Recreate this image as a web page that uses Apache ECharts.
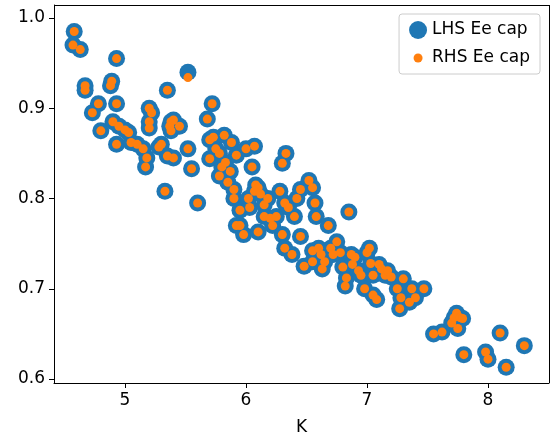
<!DOCTYPE html><html><head><meta charset="utf-8"><script src="https://cdn.jsdelivr.net/npm/echarts@6/dist/echarts.min.js"></script></head><body style="margin:0"><div id="c" style="width:558px;height:448px"></div><script>
const K=[4.58,4.57,4.63,4.67,4.67,4.73,4.78,4.80,4.88,4.89,4.93,4.90,4.93,4.95,4.93,5.03,5.05,5.10,5.15,5.20,5.20,5.22,5.20,5.18,5.17,5.28,5.30,5.33,5.35,5.38,5.37,5.38,5.35,5.40,5.45,5.52,5.52,5.55,5.60,5.68,5.70,5.72,5.73,5.70,5.75,5.78,5.80,5.78,5.82,5.83,5.85,5.88,5.87,5.90,5.90,5.92,5.95,5.92,5.95,5.98,6.00,6.02,6.03,6.05,6.07,6.08,6.10,6.07,6.12,6.10,6.15,6.15,6.18,6.20,6.22,6.25,6.28,6.30,6.33,6.32,6.35,6.30,6.32,6.38,6.40,6.42,6.45,6.45,6.48,6.52,6.55,6.57,6.58,6.55,6.55,6.60,6.62,6.65,6.63,6.68,6.70,6.72,6.75,6.78,6.80,6.82,6.83,6.85,6.87,6.88,6.90,6.93,6.95,6.98,7.00,7.02,7.03,7.05,7.05,7.08,7.10,7.12,7.15,7.17,7.20,7.25,7.27,7.28,7.30,7.35,7.37,7.40,7.47,7.55,7.62,7.70,7.72,7.74,7.75,7.77,7.79,7.80,7.98,8.00,8.10,8.15,8.30,5.00,5.40];
const lhsEe=[0.985,0.970,0.965,0.925,0.920,0.895,0.905,0.875,0.925,0.930,0.955,0.885,0.905,0.880,0.860,0.873,0.862,0.860,0.855,0.900,0.885,0.895,0.878,0.845,0.835,0.857,0.860,0.808,0.920,0.885,0.880,0.875,0.847,0.845,0.880,0.940,0.855,0.833,0.795,0.888,0.865,0.905,0.868,0.844,0.855,0.850,0.835,0.825,0.870,0.840,0.818,0.862,0.830,0.810,0.800,0.848,0.787,0.770,0.770,0.760,0.855,0.800,0.790,0.835,0.858,0.815,0.812,0.808,0.805,0.763,0.780,0.793,0.800,0.778,0.770,0.780,0.808,0.839,0.850,0.795,0.790,0.760,0.745,0.738,0.780,0.800,0.810,0.758,0.725,0.820,0.812,0.795,0.780,0.742,0.730,0.745,0.738,0.730,0.722,0.770,0.745,0.738,0.752,0.740,0.724,0.703,0.712,0.785,0.738,0.727,0.735,0.720,0.715,0.700,0.740,0.745,0.728,0.715,0.693,0.688,0.727,0.722,0.715,0.720,0.713,0.700,0.678,0.690,0.711,0.685,0.700,0.690,0.700,0.650,0.652,0.662,0.668,0.673,0.656,0.668,0.667,0.627,0.630,0.622,0.651,0.613,0.637,0.876,0.887];
const rhsEe=lhsEe.map((v,i)=>i===35?0.934:v);
const xTicks=[5,6,7,8];
const yTicks=[0.6,0.7,0.8,0.9,1.0];
const smallDot='image://data:image/svg+xml;utf8,'+encodeURIComponent('<svg xmlns="http://www.w3.org/2000/svg" width="18" height="18"><circle cx="9" cy="9" r="4.5" fill="#ff7f0e"/></svg>');
const ch=echarts.init(document.getElementById('c'));
const F='DejaVu Sans';
ch.setOption({animation:false,
grid:{left:54,right:9,top:5,bottom:65},
legend:{top:14,right:18,orient:'vertical',itemGap:10,padding:[7,10],borderColor:'#ccc',borderWidth:1,borderRadius:3,textStyle:{fontFamily:F,fontSize:17,color:'#000'},itemWidth:18,itemHeight:18,
data:[{name:'LHS Ee cap',icon:'circle'},{name:'RHS Ee cap',icon:smallDot}]},
xAxis:{type:'value',min:4.413,max:8.504,name:'K',nameLocation:'middle',nameGap:36,nameTextStyle:{fontFamily:F,fontSize:17,color:'#000'},
axisLine:{onZero:false,lineStyle:{color:'#000'}},splitLine:{show:false},
axisTick:{customValues:xTicks,length:5,lineStyle:{color:'#000'}},axisLabel:{customValues:xTicks,fontFamily:F,fontSize:17,color:'#000',margin:9}},
yAxis:{type:'value',min:0.5956,max:1.0144,
axisLine:{show:true,onZero:false,lineStyle:{color:'#000'}},splitLine:{show:false},
axisTick:{show:true,customValues:yTicks,length:5,lineStyle:{color:'#000'}},axisLabel:{customValues:yTicks,formatter:v=>v.toFixed(1),fontFamily:F,fontSize:17,color:'#000',margin:9}},
series:[
{name:'LHS Ee cap',type:'scatter',symbolSize:17,itemStyle:{color:'#1f77b4',opacity:1},data:K.map((k,i)=>[k,lhsEe[i]])},
{name:'RHS Ee cap',type:'scatter',symbolSize:9,itemStyle:{color:'#ff7f0e',opacity:1},data:K.map((k,i)=>[k,rhsEe[i]])},
{type:'line',silent:true,data:[],markLine:{silent:true,symbol:'none',label:{show:false},lineStyle:{color:'#000',type:'solid',width:1},data:[[{coord:[4.413,1.0144]},{coord:[8.504,1.0144]}],[{coord:[8.504,0.5956]},{coord:[8.504,1.0144]}]]}}
]});
</script></body></html>
